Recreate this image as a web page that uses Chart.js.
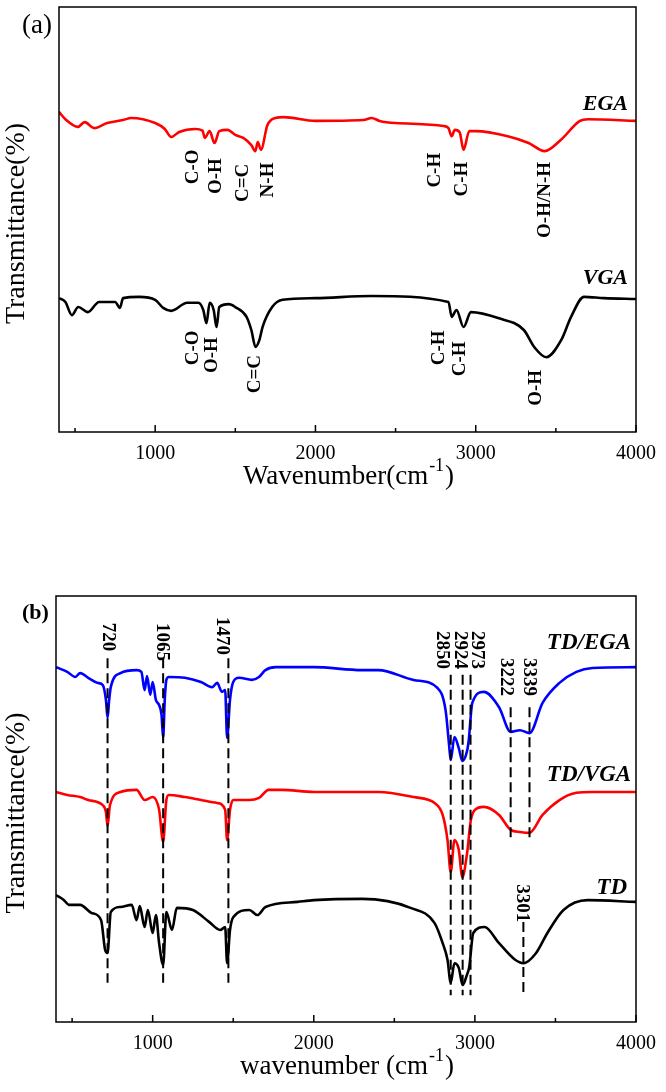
<!DOCTYPE html>
<html lang="en">
<head>
<meta charset="UTF-8">
<title>FTIR spectra</title>
<script src="https://cdn.jsdelivr.net/npm/chart.js"></script>
<style>
  body { margin: 0; background: #fff; }
  .panel { position: absolute; left: 0; width: 666px; }
  #panelA { top: 0; height: 520px; }
  #panelB { top: 560px; height: 532px; }
</style>
</head>
<body>
<div class="panel" id="panelA"><canvas id="chartA"></canvas></div>
<div class="panel" id="panelB"><canvas id="chartB"></canvas></div>
<script>
// shared x axis (wavenumber, cm-1)
var xMin = 400, xMax = 4000;
var xTicks = [500, 1000, 1500, 2000, 2500, 3000, 3500, 4000];
var xLabels = [1000, 2000, 3000, 4000];

// ---- panel (a) ----
var egaWn = [400, 440, 518, 560, 620, 700, 800, 850, 1000, 1060, 1100, 1150, 1250, 1295, 1310, 1340, 1370, 1400, 1450, 1500, 1550, 1600, 1625, 1640, 1660, 1700, 1750, 1800, 2000, 2300, 2350, 2400, 2500, 2800, 2830, 2850, 2870, 2900, 2924, 2960, 3000, 3200, 3330, 3430, 3530, 3650, 3700, 4000];
var egaT  = [75.3, 73.6, 71.8, 72.9, 71.5, 72.7, 73.4, 73.9, 72.7, 71.3, 69.4, 70.6, 71.3, 70.9, 69.2, 70.8, 68.0, 70.8, 71.1, 69.9, 69.2, 67.5, 66.1, 68.2, 66.4, 72.2, 73.9, 74.1, 73.2, 73.4, 73.9, 73.2, 72.7, 72.0, 71.5, 69.6, 71.1, 70.5, 66.4, 70.8, 70.8, 69.6, 68.0, 66.1, 68.7, 73.2, 73.6, 73.2];
var vgaWn = [400, 440, 480, 520, 580, 650, 750, 780, 800, 900, 1000, 1050, 1100, 1200, 1270, 1300, 1320, 1340, 1365, 1383, 1400, 1460, 1500, 1570, 1600, 1626, 1650, 1670, 1730, 1795, 2000, 2350, 2830, 2850, 2880, 2924, 2970, 3140, 3300, 3365, 3440, 3533, 3595, 3676, 3800, 4000];
var vgaT  = [31.5, 30.6, 27.5, 29.4, 28.2, 30.6, 30.6, 29.2, 31.5, 31.8, 31.1, 29.2, 28.5, 30.4, 30.4, 28.7, 25.6, 30.4, 28.7, 24.7, 29.4, 30.1, 29.4, 27.1, 24.0, 20.0, 21.6, 24.7, 29.4, 31.1, 31.5, 32.0, 30.6, 27.1, 28.7, 24.7, 28.2, 26.8, 24.0, 20.0, 17.6, 21.6, 27.1, 31.8, 31.5, 31.3];

// band labels (a): text, wavenumber, transmittance
var bandTextA = ['C-O', 'O-H', 'C=C', 'N-H', 'C-H', 'C-H', 'O-H/N-H', 'C-O', 'O-H', 'C=C', 'C-H', 'C-H', 'O-H'];
var bandWnA   = [1230, 1373, 1541, 1697, 2742, 2910, 3427, 1230, 1348, 1616, 2767, 2898, 3371];
var bandTA    = [62.4, 60.2, 58.6, 59.3, 61.6, 59.5, 54.6, 19.8, 18.1, 13.6, 19.8, 17.2, 10.4];

// ---- panel (b) ----
var tdegaWn = [400, 470, 520, 550, 600, 660, 690, 710, 720, 730, 740, 800, 900, 930, 950, 965, 985, 1000, 1020, 1040, 1055, 1065, 1075, 1085, 1100, 1200, 1300, 1370, 1400, 1430, 1450, 1462, 1480, 1500, 1536, 1616, 1660, 1700, 1764, 2000, 2300, 2400, 2620, 2768, 2818, 2840, 2850, 2873, 2900, 2922, 2945, 2960, 2984, 3055, 3150, 3222, 3280, 3339, 3420, 3525, 3630, 3730, 4000];
var tdegaT  = [83.3, 82.2, 81.0, 81.9, 80.8, 79.6, 79.1, 75.6, 71.4, 75.6, 78.6, 81.9, 82.6, 82.2, 77.9, 81.2, 76.8, 79.8, 75.6, 74.4, 72.1, 66.7, 75.6, 80.3, 81.0, 80.8, 79.8, 78.6, 79.6, 77.5, 77.9, 66.7, 75.6, 79.8, 80.8, 80.3, 81.0, 82.6, 83.3, 83.3, 82.6, 82.6, 80.3, 78.4, 73.2, 65.0, 61.5, 66.9, 64.3, 61.3, 62.7, 65.5, 74.9, 77.5, 73.9, 68.1, 68.5, 67.8, 74.9, 79.6, 82.2, 83.1, 83.3];
var tdvgaWn = [400, 470, 550, 600, 690, 710, 720, 735, 800, 900, 950, 1000, 1040, 1065, 1085, 1100, 1200, 1300, 1400, 1450, 1462, 1480, 1500, 1600, 1660, 1720, 1800, 2000, 2400, 2620, 2750, 2800, 2830, 2850, 2873, 2900, 2922, 2950, 2975, 3000, 3055, 3150, 3222, 3280, 3339, 3420, 3525, 3630, 3730, 4000];
var tdvgaT  = [54.0, 53.3, 52.8, 52.1, 50.9, 49.3, 46.0, 50.9, 54.0, 54.5, 52.1, 52.8, 49.8, 42.3, 52.1, 53.3, 52.8, 52.1, 51.4, 49.8, 42.7, 49.8, 52.1, 52.1, 52.6, 54.5, 54.5, 54.0, 54.0, 52.8, 51.4, 48.6, 42.7, 35.2, 42.7, 40.4, 34.0, 39.2, 47.4, 49.8, 50.5, 48.6, 45.1, 44.6, 44.4, 48.6, 52.1, 53.8, 54.0, 54.0];
var tdWn = [400, 450, 480, 550, 620, 680, 705, 720, 740, 800, 870, 900, 920, 950, 970, 1000, 1020, 1040, 1065, 1085, 1120, 1150, 1250, 1350, 1420, 1450, 1462, 1480, 1500, 1600, 1650, 1700, 1900, 2000, 2300, 2600, 2750, 2800, 2830, 2850, 2873, 2900, 2924, 2950, 2965, 2990, 3060, 3150, 3250, 3301, 3380, 3450, 3550, 3700, 4000];
var tdT  = [29.8, 28.6, 27.5, 27.5, 25.6, 23.9, 16.9, 16.2, 25.8, 27.0, 27.5, 23.9, 27.2, 22.3, 26.3, 20.9, 25.1, 18.5, 13.4, 25.8, 21.6, 26.8, 26.3, 23.5, 21.6, 22.3, 13.8, 21.6, 24.6, 26.3, 25.1, 27.0, 28.2, 28.6, 28.9, 26.8, 23.2, 18.5, 14.6, 9.2, 13.8, 12.7, 8.7, 11.0, 12.9, 20.9, 22.3, 18.5, 14.6, 13.8, 16.2, 20.9, 26.3, 28.6, 28.2];

// peak markers (b): label, dashed line position, dashed line span, label position
var peakText  = ['720', '1065', '1470', '2850', '2924', '2973', '3222', '3339', '3301'];
var peakWn    = [720, 1065, 1470, 2850, 2924, 2973, 3222, 3339, 3301];
var dashTop   = [85.4, 85.4, 85.4, 81.5, 81.5, 81.5, 73.9, 73.9, 23.5];
var dashBot   = [9.2, 9.2, 9.2, 6.3, 6.3, 6.3, 42.7, 42.7, 5.9];
var peakLblWn = [729, 1062, 1437, 2799, 2916, 3021, 3200, 3341, 3298];
var peakLblT  = [90.4, 89.2, 90.6, 87.3, 87.3, 87.3, 81.0, 81.0, 27.9];

var serif = "'Times New Roman', 'Liberation Serif', serif";

function pts(wn, t) {
  return wn.map(function (w, i) { return { x: w, y: t[i] }; });
}

function curve(wn, t, color) {
  return { data: pts(wn, t), borderColor: color, borderWidth: 2.6, pointRadius: 0, cubicInterpolationMode: 'monotone', fill: false };
}

// frame around the plot with inward ticks on the bottom axis
var framePlugin = {
  id: 'frame',
  afterDatasetsDraw: function (chart) {
    var ctx = chart.ctx, a = chart.chartArea, xs = chart.scales.x;
    ctx.save();
    ctx.strokeStyle = '#000';
    ctx.lineWidth = 1.5;
    ctx.strokeRect(a.left, a.top, a.right - a.left, a.bottom - a.top);
    xTicks.forEach(function (v) {
      var px = xs.getPixelForValue(v);
      var len = v % 1000 === 0 ? 7 : 4;
      ctx.beginPath();
      ctx.moveTo(px, a.bottom);
      ctx.lineTo(px, a.bottom - len);
      ctx.stroke();
    });
    ctx.restore();
  }
};

// text drawn on the chart: rotated band labels, series names, axis titles
var textPlugin = {
  id: 'texts',
  afterDraw: function (chart, args, opts) {
    var ctx = chart.ctx, a = chart.chartArea, xs = chart.scales.x, ys = chart.scales.y;
    ctx.save();
    ctx.fillStyle = '#000';
    ctx.textAlign = 'center';
    ctx.textBaseline = 'middle';
    (opts.rotated || []).forEach(function (r) {
      ctx.save();
      ctx.translate(xs.getPixelForValue(r.x), ys.getPixelForValue(r.y));
      ctx.rotate(r.angle);
      ctx.font = 'bold 19px ' + serif;
      ctx.fillText(r.text, 0, 1);
      ctx.restore();
    });
    (opts.names || []).forEach(function (n) {
      ctx.font = 'italic bold ' + opts.nameSize + 'px ' + serif;
      ctx.textAlign = 'right';
      ctx.fillText(n.text, xs.getPixelForValue(n.x), ys.getPixelForValue(n.y));
    });
    // y title
    ctx.save();
    ctx.translate(17, (a.top + a.bottom) / 2 + 4);
    ctx.rotate(-Math.PI / 2);
    ctx.textAlign = 'center';
    ctx.font = '28px ' + serif;
    ctx.fillText('Transmittance(%)', 0, 0);
    ctx.restore();
    // x title with superscript
    ctx.textBaseline = 'alphabetic';
    ctx.textAlign = 'left';
    var main = opts.xTitle, big = '27px ' + serif, small = '18px ' + serif;
    ctx.font = big;
    var w1 = ctx.measureText(main).width, w3 = ctx.measureText(')').width;
    ctx.font = small;
    var w2 = ctx.measureText('-1').width;
    var x0 = (a.left + a.right) / 2 - (w1 + w2 + w3) / 2, yb = a.bottom + 52;
    ctx.font = big;
    ctx.fillText(main, x0, yb);
    ctx.font = small;
    ctx.fillText('-1', x0 + w1 + 1, yb - 13);
    ctx.font = big;
    ctx.fillText(')', x0 + w1 + w2 + 2, yb);
    // panel tag
    ctx.font = opts.tagFont;
    ctx.fillText(opts.tag, 22, a.top + opts.tagDy);
    ctx.restore();
  }
};

function options(padTop, padLeft, padRight, axisH, texts) {
  return {
    responsive: true,
    maintainAspectRatio: false,
    animation: false,
    layout: { padding: { top: padTop, left: padLeft, right: padRight, bottom: 0 } },
    plugins: { legend: { display: false }, tooltip: { enabled: false }, texts: texts },
    scales: {
      x: {
        type: 'linear', min: xMin, max: xMax,
        afterBuildTicks: function (s) { s.ticks = xTicks.map(function (v) { return { value: v }; }); },
        afterFit: function (s) { s.height = axisH; },
        grid: { display: false, drawTicks: false },
        border: { display: false },
        ticks: {
          padding: 10, color: '#000', autoSkip: false, maxRotation: 0,
          font: { family: serif, size: 20 },
          callback: function (v) { return xLabels.indexOf(v) >= 0 ? String(v) : ''; }
        }
      },
      y: { display: false, min: 0, max: 100 }
    }
  };
}

var rotA = bandTextA.map(function (t, i) {
  return { text: t, x: bandWnA[i], y: bandTA[i], angle: -Math.PI / 2 };
});

new Chart(document.getElementById('chartA'), {
  type: 'line',
  data: { datasets: [curve(egaWn, egaT, '#ff0000'), curve(vgaWn, vgaT, '#000000')] },
  options: options(7, 59, 28, 88, {
    rotated: rotA,
    nameSize: 22,
    names: [{ text: 'EGA', x: 3950, y: 77.2 }, { text: 'VGA', x: 3950, y: 36.2 }],
    xTitle: 'Wavenumber(cm',
    tag: '(a)', tagFont: '27px ' + serif, tagDy: 26
  }),
  plugins: [framePlugin, textPlugin]
});

var dashSets = peakWn.map(function (w, i) {
  return {
    data: [{ x: w, y: dashTop[i] }, { x: w, y: dashBot[i] }],
    borderColor: '#000', borderWidth: 2, borderDash: [10, 5], pointRadius: 0, fill: false
  };
});
var rotB = peakText.map(function (t, i) {
  return { text: t, x: peakLblWn[i], y: peakLblT[i], angle: Math.PI / 2 };
});

new Chart(document.getElementById('chartB'), {
  type: 'line',
  data: { datasets: dashSets.concat([curve(tdegaWn, tdegaT, '#0000ff'), curve(tdvgaWn, tdvgaT, '#ff0000'), curve(tdWn, tdT, '#000000')]) },
  options: options(36, 56, 26, 70, {
    rotated: rotB,
    nameSize: 23,
    names: [{ text: 'TD/EGA', x: 3970, y: 89.0 }, { text: 'TD/VGA', x: 3970, y: 58.0 }, { text: 'TD', x: 3945, y: 31.5 }],
    xTitle: 'wavenumber (cm',
    tag: '(b)', tagFont: 'bold 22px ' + serif, tagDy: 23
  }),
  plugins: [framePlugin, textPlugin]
});
</script>
</body>
</html>
